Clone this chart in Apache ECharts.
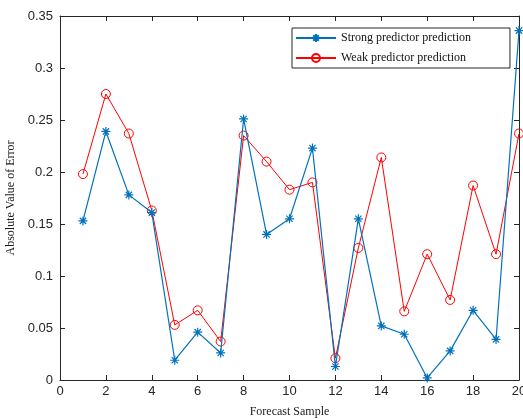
<!DOCTYPE html>
<html>
<head>
<meta charset="utf-8">
<script src="https://cdn.jsdelivr.net/npm/echarts@6/dist/echarts.min.js"></script>
<style>
  html, body { margin: 0; padding: 0; background: #fff; }
  #main { width: 523px; height: 419px; }
</style>
</head>
<body>
<div id="main"></div>
<script>
var samples = [1, 2, 3, 4, 5, 6, 7, 8, 9, 10, 11, 12, 13, 14, 15, 16, 17, 18, 19, 20];
var strongErr = [0.153, 0.239, 0.178, 0.161, 0.019, 0.046, 0.026, 0.251, 0.140, 0.155,
                 0.223, 0.013, 0.155, 0.052, 0.044, 0.002, 0.028, 0.067, 0.039, 0.336];
var weakErr = [0.198, 0.275, 0.237, 0.163, 0.053, 0.067, 0.037, 0.235, 0.210, 0.183,
               0.190, 0.021, 0.127, 0.214, 0.066, 0.121, 0.077, 0.187, 0.121, 0.237];
var seriesNames = ['Strong predictor prediction', 'Weak predictor prediction'];

function pairs(vals) {
  var res = [];
  for (var i = 0; i < samples.length; i++) res.push([samples[i], vals[i]]);
  return res;
}

var axisCol = '#262626';
var asterisk = 'path://M0,-10L0,10M-10,0L10,0M-7,-7L7,7M-7,7L7,-7';

var option = {
  animation: false,
  backgroundColor: '#fff',
  grid: { left: 60, right: 4, top: 16, bottom: 39, outerBoundsMode: 'none' },
  legend: {
    left: 292,
    top: 28,
    orient: 'vertical',
    data: seriesNames,
    itemWidth: 40,
    itemHeight: 10,
    itemGap: 8,
    padding: [4, 39, 4, 3],
    borderColor: axisCol,
    borderWidth: 1,
    backgroundColor: '#fff',
    textStyle: { fontFamily: 'Liberation Serif', fontSize: 12, color: '#111' }
  },
  xAxis: [{
    type: 'value', min: 0, max: 20, interval: 2,
    name: 'Forecast Sample', nameLocation: 'middle', nameGap: 26,
    nameTextStyle: { fontFamily: 'Liberation Serif', fontSize: 12, color: '#1a1a1a' },
    axisLine: { onZero: false, lineStyle: { color: axisCol } },
    axisTick: { inside: true, length: 5, lineStyle: { color: axisCol } },
    axisLabel: { fontFamily: 'Liberation Sans', fontSize: 13, color: axisCol, margin: 5 },
    splitLine: { show: false }
  }, {
    type: 'value', min: 0, max: 20, interval: 2, position: 'top',
    axisLine: { show: true, onZero: false, lineStyle: { color: axisCol } },
    axisTick: { inside: true, length: 5, lineStyle: { color: axisCol } },
    axisLabel: { show: false },
    splitLine: { show: false }
  }],
  yAxis: [{
    type: 'value', min: 0, max: 0.35, interval: 0.05,
    name: 'Absolute Value of Error', nameLocation: 'middle', nameGap: 35,
    nameTextStyle: { fontFamily: 'Liberation Serif', fontSize: 12, color: '#1a1a1a' },
    axisLine: { show: true, onZero: false, lineStyle: { color: axisCol } },
    axisTick: { show: true, inside: true, length: 5, lineStyle: { color: axisCol } },
    axisLabel: { fontFamily: 'Liberation Sans', fontSize: 13, color: axisCol, margin: 7 },
    splitLine: { show: false }
  }, {
    type: 'value', min: 0, max: 0.35, interval: 0.05, position: 'right',
    axisLine: { show: true, onZero: false, lineStyle: { color: axisCol } },
    axisTick: { show: true, inside: true, length: 5, lineStyle: { color: axisCol } },
    axisLabel: { show: false },
    splitLine: { show: false }
  }],
  series: [{
    name: seriesNames[0],
    type: 'line',
    data: pairs(strongErr),
    symbol: asterisk,
    symbolSize: 9,
    showAllSymbol: true,
    lineStyle: { color: '#0072BD', width: 1.2 },
    itemStyle: { color: 'rgba(0,0,0,0)', borderColor: '#0072BD', borderWidth: 1.2 },
    z: 3
  }, {
    name: seriesNames[1],
    type: 'line',
    data: pairs(weakErr),
    symbol: 'circle',
    symbolSize: 9,
    showAllSymbol: true,
    lineStyle: { color: '#FF0000', width: 1 },
    itemStyle: { color: 'rgba(0,0,0,0)', borderColor: '#FF0000', borderWidth: 1 },
    z: 2
  }]
};

var chart = echarts.init(document.getElementById('main'));
chart.setOption(option);
</script>
</body>
</html>
